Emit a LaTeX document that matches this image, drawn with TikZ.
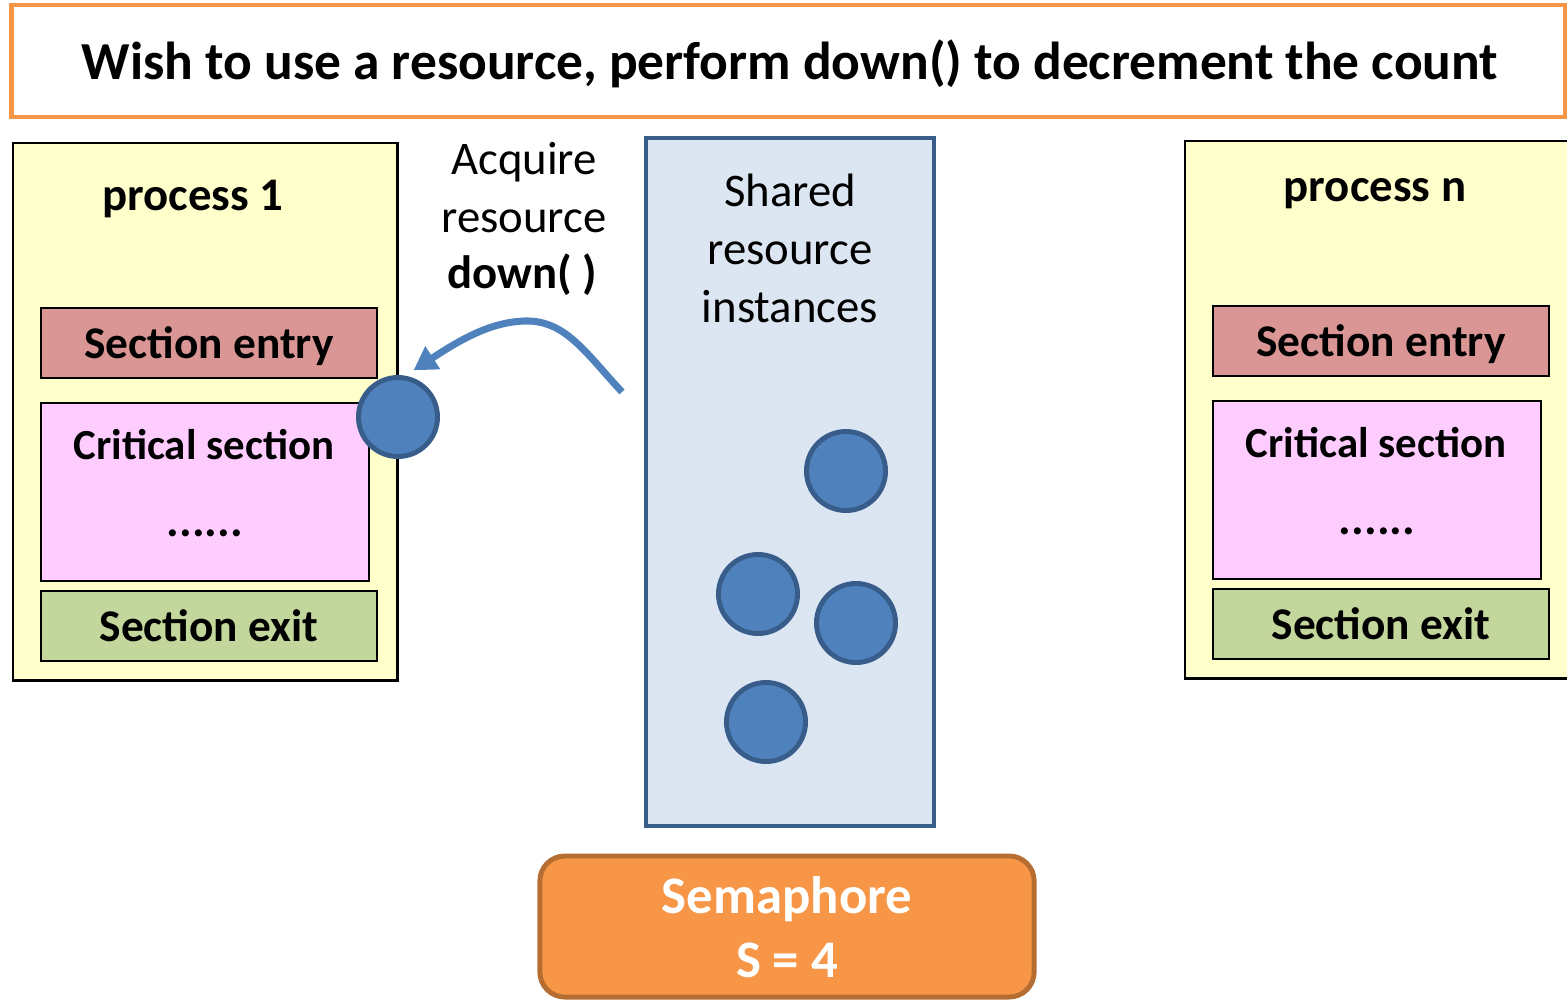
\documentclass[tikz,border=0pt]{standalone}
\usepackage{fontspec}
\setmainfont{Carlito}
\usetikzlibrary{positioning,arrows.meta}
\definecolor{hdrorange}{HTML}{F79646}
\definecolor{procfill}{HTML}{FFFFCC}
\definecolor{entryfill}{HTML}{D99694}
\definecolor{critfill}{HTML}{FFCCFF}
\definecolor{exitfill}{HTML}{C3D69B}
\definecolor{poolfill}{HTML}{DCE6F2}
\definecolor{pooldraw}{HTML}{385D8A}
\definecolor{tokfill}{HTML}{4F81BD}
\definecolor{semadraw}{HTML}{B66D31}
\tikzset{procbox/.style={draw,fill=procfill,line width=0.7pt,inner sep=0pt,minimum height=5.37cm}  }
\tikzset{secbox/.style={draw,line width=0.7pt,inner sep=0pt,minimum height=0.7cm,text depth=0pt,font=\fontsize{12.9}{15}\selectfont\bfseries}  }
\tikzset{token/.style={draw=pooldraw,circle,fill=tokfill,line width=1.4pt,minimum size=0.79cm,inner sep=0pt}  }
\tikzset{lbl/.style={anchor=base,inner sep=0pt,font=\fontsize{13.3}{16}\selectfont}  }
\tikzset{>={Triangle[length=2.3mm,width=2.6mm]}}

\begin{document}
\begin{tikzpicture}[x=0.01cm,y=-0.01cm]
  % one unit = one pixel of a 1567 x 1000 canvas, y pointing down
  \clip (0,0) rectangle (1567,1000);

  % banner across the top
  \node[draw=hdrorange,line width=1.4pt,minimum width=15.53cm,minimum height=1.12cm,inner sep=0pt] (banner) at (788.5,61) {};
  \node[lbl,font=\fontsize{15.2}{18}\selectfont\bfseries] (bannertxt) at (790,79) {Wish to use a resource, perform down() to decrement the count};

  % the two processes, each with entry / critical / exit sections
  \foreach \p/\dx/\dy/\w/\tx/\ty in {1/0/0/3.84/193/210, n/1172/-2/3.96/1375/201}
  {
    \node[procbox,minimum width=\w cm,anchor=north west] (proc\p) at ({12+\dx},{142+\dy}) {};
    \node[lbl,font=\fontsize{13.3}{16}\selectfont\bfseries] (name\p) at (\tx,\ty) {process \p};
    \node[secbox,fill=entryfill,minimum width=3.36cm] (entry\p) at ({209+\dx},{343+\dy}) {Section entry};
    \node[secbox,fill=critfill,minimum width=3.28cm,minimum height=1.78cm] (crit\p) at ({205+\dx},{492+\dy}) {};
    \node[lbl,font=\fontsize{12.2}{15}\selectfont\bfseries] (crittxt\p) at ({204+\dx},{459+\dy}) {Critical section};
    \node[lbl,font=\fontsize{13.5}{15}\selectfont\bfseries] (dots\p) at ({205+\dx},{536+\dy}) {......};
    \node[secbox,fill=exitfill,minimum width=3.36cm] (exit\p) at ({209+\dx},{626+\dy}) {Section exit};
  }

  % pool of shared resource instances
  \node[draw=pooldraw,fill=poolfill,line width=1.1pt,minimum width=2.88cm,minimum height=6.88cm,inner sep=0pt] (pool) at (790,482) {};
  \node[lbl] (pool1) at (790,206) {Shared};
  \node[lbl] (pool2) at (790,264) {resource};
  \node[lbl] (pool3) at (790,322) {instances};

  \foreach \x/\y [count=\i] in {846/471, 758/594, 856/623, 766/722}
  {
    \node[token] (tok\i) at (\x,\y) {};
  }

  % instance already taken by process 1
  \node[token] (tok0) at (398,417) {};

  % down() operation
  \node[lbl] (acq1) at (524,174) {Acquire};
  \node[lbl] (acq2) at (524,232) {resource};
  \node[lbl,font=\fontsize{13.3}{16}\selectfont\bfseries] (acq3) at (522,288) {down( )};
  \coordinate (src) at (622,392);
  \draw[->,draw=tokfill,line width=2pt] (src) .. controls (585,352) and (565,320) .. (525,321)
    .. controls (490,322) and (460,340) .. (tok0.80) [shorten >=2.8pt];

  % semaphore counter
  \node[draw=semadraw,fill=hdrorange,line width=1.4pt,rounded corners=0.25cm,minimum width=4.94cm,minimum height=1.41cm,inner sep=0pt] (sema) at (787,926.5) {};
  \node[lbl,text=white,font=\fontsize{15}{18}\selectfont\bfseries] (sema1) at (787,913) {Semaphore};
  \node[lbl,text=white,font=\fontsize{15}{18}\selectfont\bfseries] (sema2) at (787,977) {S = 4};
\end{tikzpicture}
\end{document}
